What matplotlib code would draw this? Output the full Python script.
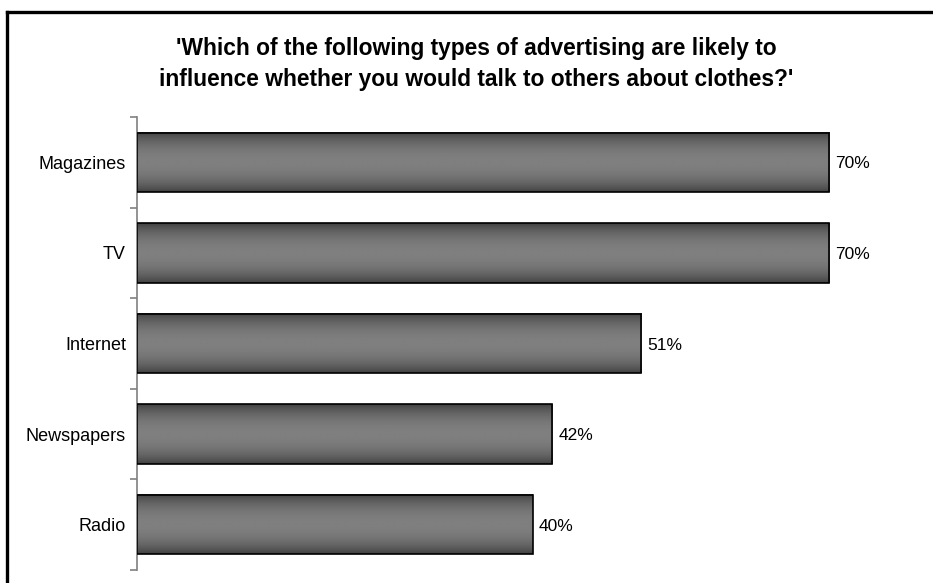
import numpy as np
import matplotlib
matplotlib.use("Agg")
import matplotlib.pyplot as plt
from matplotlib.patches import Rectangle
from matplotlib.lines import Line2D

categories = ["Magazines", "TV", "Internet", "Newspapers", "Radio"]
values = [70, 70, 51, 42, 40]
title = "'Which of the following types of advertising are likely to\ninfluence whether you would talk to others about clothes?'"

plt.rcParams['font.family'] = ['Liberation Sans', 'DejaVu Sans']

W, H = 933, 583
fig = plt.figure(figsize=(W / 100, H / 100), dpi=100)

# frame (left and top edges visible)
fig.add_artist(Line2D([7.5 / W, 7.5 / W], [0, 1 - 11.5 / H], transform=fig.transFigure,
                      color='black', lw=2.4, solid_capstyle='projecting'))
fig.add_artist(Line2D([7.5 / W, 1.0], [1 - 11.5 / H, 1 - 11.5 / H], transform=fig.transFigure,
                      color='black', lw=2.4, solid_capstyle='projecting'))

left, right = 137, 928
top, bottom = 117, 570
ax = fig.add_axes([left / W, 1 - bottom / H, (right - left) / W, (bottom - top) / H])

n = len(categories)
ypos = np.arange(n)
h = 0.655

# vertical gradient: dark edges, light centre
t = np.linspace(-1, 1, 200)
shade = 0.24 + (0.50 - 0.24) * (1 - t ** 2) ** 0.8
grad = shade[:, None]

for y, v in zip(ypos, values):
    ax.imshow(grad, cmap='gray', vmin=0, vmax=1, aspect='auto',
              extent=[0, v, y + h / 2, y - h / 2], interpolation='bilinear', zorder=2)
    ax.add_patch(Rectangle((0, y - h / 2), v, h, fill=False, edgecolor='black', lw=1.2, zorder=3))
    ax.text(v + 0.6, y, f"{v}%", va='center_baseline', ha='left', fontsize=12.5, color='black')

ax.set_xlim(0, 80)
ax.set_ylim(n - 0.5, -0.5)
ax.set_yticks(ypos)
ax.set_yticklabels(categories, fontsize=13, va='center_baseline')
ax.set_yticks(np.arange(-0.5, n, 1), minor=True)
ax.tick_params(axis='y', which='major', length=0, pad=8)
ax.tick_params(axis='y', which='minor', length=5, color='#808080', width=1.2)
ax.set_xticks([])
for s in ['top', 'right', 'bottom']:
    ax.spines[s].set_visible(False)
ax.spines['left'].set_color('#808080')
ax.spines['left'].set_linewidth(1.2)

fig.text(476 / W, 1 - 64 / H, title, ha='center', va='center', fontsize=16.4,
         fontweight='bold', linespacing=1.45)

fig.savefig("out.png", dpi=100)
